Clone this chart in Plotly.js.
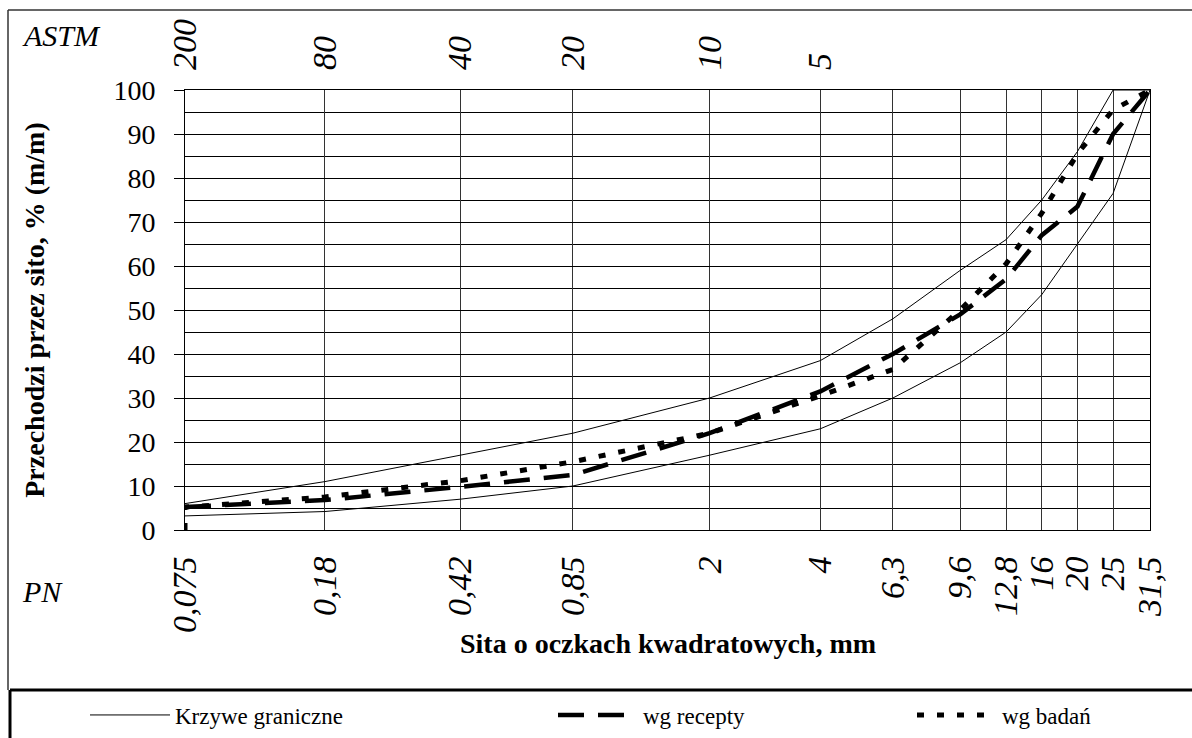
<!DOCTYPE html>
<html><head><meta charset="utf-8">
<script src="https://cdn.plot.ly/plotly-3.0.1.min.js"></script>
<style>html,body{margin:0;padding:0;background:#fff}#chart{width:1192px;height:738px}</style>
</head><body><div id="chart"></div>
<script>
// Sieve sizes (PN, mm) and their labels
const sieves = [0.075, 0.18, 0.42, 0.85, 2, 4, 6.3, 9.6, 12.8, 16, 20, 25, 31.5];
const pnLabels = ['0,075', '0,18', '0,42', '0,85', '2', '4', '6,3', '9,6', '12,8', '16', '20', '25', '31,5'];
// ASTM sieve numbers on the top axis
const astmSieves = [0.075, 0.18, 0.42, 0.85, 2, 4];
const astmLabels = ['200', '80', '40', '20', '10', '5'];
// Y ticks
const yTicks = [0, 10, 20, 30, 40, 50, 60, 70, 80, 90, 100];
// Grading limit curves (Krzywe graniczne)
const upperLimit = [6, 11, 17, 22, 30, 38.5, 48, 59, 66, 75, 86, 100, 100];
const lowerLimit = [3.2, 4.2, 7, 10, 17, 23, 30, 38, 45, 53.5, 65, 76.5, 100];
// wg recepty
const recipe = [5.2, 6.8, 9.8, 12.5, 22, 31.5, 40, 49, 57, 67, 73.5, 90, 100];
// wg badań
const testSieves = [0.075, 0.075, 0.18, 0.42, 0.85, 2, 4, 6.3, 9.6, 12.8, 16, 20, 25, 31.5];
const testValues = [0, 5.2, 7.5, 11.2, 15.5, 22, 30.5, 36.5, 50, 60.5, 72, 85.5, 95.5, 100];

const serif = 'Times New Roman, Liberation Serif';
const W = 1192, H = 738, ML = 185, MR = 42, MT = 90, MB = 208;
const PW = W - ML - MR, PH = H - MT - MB;
const px = v => (v - ML) / PW;
const py = v => (H - MB - v) / PH;

const traces = [
  {x: sieves.concat([null], sieves), y: upperLimit.concat([null], lowerLimit), type: 'scatter', mode: 'lines', connectgaps: false,
   name: 'Krzywe graniczne', legend: 'legend', line: {color: '#000', width: 1}, hoverinfo: 'skip'},
  {x: sieves, y: recipe, type: 'scatter', mode: 'lines', name: 'wg recepty', legend: 'legend2',
   line: {color: '#000', width: 4.5, dash: '26px,14px'}, hoverinfo: 'skip'},
  {x: testSieves, y: testValues, type: 'scatter', mode: 'lines', name: 'wg badań', legend: 'legend3',
   line: {color: '#000', width: 5, dash: '7px,13px'}, hoverinfo: 'skip'},
  {x: astmSieves, y: astmSieves.map(() => 0), xaxis: 'x2', type: 'scatter', mode: 'markers', marker: {size: 1, opacity: 0},
   showlegend: false, hoverinfo: 'skip'}
];

const legendBase = {orientation: 'h', xanchor: 'left', yanchor: 'middle', y: py(715),
  font: {family: serif, size: 23, color: '#000'}, bgcolor: 'rgba(0,0,0,0)', itemwidth: 80};

const layout = {
  width: W, height: H, margin: {l: ML, r: MR, t: MT, b: MB, autoexpand: false},
  paper_bgcolor: '#fff', plot_bgcolor: '#fff', font: {family: serif, color: '#000'},
  xaxis: {type: 'log', range: [Math.log10(0.075), Math.log10(31.5)], tickmode: 'array', tickvals: sieves, ticktext: pnLabels, tickangle: -90,
    tickfont: {family: serif, size: 34, style: 'italic', color: '#000'}, ticks: '', ticklabelstandoff: 12,
    showgrid: true, gridcolor: '#333', gridwidth: 1, showline: true, linecolor: '#000', linewidth: 1, mirror: true, zeroline: false, automargin: false},
  xaxis2: {type: 'log', range: [Math.log10(0.075), Math.log10(31.5)], overlaying: 'x', side: 'top', tickmode: 'array', tickvals: astmSieves,
    ticktext: astmLabels, tickangle: -90, tickfont: {family: serif, size: 34, style: 'italic', color: '#000'}, ticks: '', ticklabelstandoff: 19,
    showgrid: false, showline: false, zeroline: false, automargin: false},
  yaxis: {range: [0, 100], tickmode: 'array', tickvals: yTicks, ticks: 'outside', ticklen: 10, tickcolor: '#000', ticklabelstandoff: 13,
    tickfont: {family: serif, size: 28, color: '#000'}, showgrid: true, gridcolor: '#000', gridwidth: 1,
    minor: {dtick: 5, tick0: 0, showgrid: true, gridcolor: '#000', gridwidth: 1, ticks: ''},
    showline: true, linecolor: '#000', linewidth: 1, mirror: true, zeroline: false, automargin: false,
    title: {text: 'Przechodzi przez sito, % (m/m)', font: {family: serif, size: 28, weight: 'bold', color: '#000'}, standoff: 60}},
  legend: Object.assign({}, legendBase, {x: px(85)}),
  legend2: Object.assign({}, legendBase, {x: px(553)}),
  legend3: Object.assign({}, legendBase, {x: px(912)}),
  annotations: [
    {xref: 'paper', yref: 'paper', x: px(20), y: py(36), xanchor: 'left', yanchor: 'middle', showarrow: false,
     text: 'ASTM', font: {family: serif, size: 30, style: 'italic', color: '#000'}},
    {xref: 'paper', yref: 'paper', x: px(20), y: py(591), xanchor: 'left', yanchor: 'middle', showarrow: false,
     text: 'PN', font: {family: serif, size: 30, style: 'italic', color: '#000'}},
    {xref: 'paper', yref: 'paper', x: 0.5, y: py(643), xanchor: 'center', yanchor: 'middle', showarrow: false,
     text: 'Sita o oczkach kwadratowych, mm', font: {family: serif, size: 28, weight: 'bold', color: '#000'}}
  ],
  shapes: [
    {type: 'line', xref: 'paper', yref: 'paper', x0: px(8), x1: px(1200), y0: py(10), y1: py(10), line: {color: '#333', width: 1.5}},
    {type: 'line', xref: 'paper', yref: 'paper', x0: px(8), x1: px(8), y0: py(10), y1: py(690), line: {color: '#333', width: 1.5}},
    {type: 'line', xref: 'paper', yref: 'paper', x0: px(10), x1: px(1200), y0: py(690), y1: py(690), line: {color: '#000', width: 3}},
    {type: 'line', xref: 'paper', yref: 'paper', x0: px(10), x1: px(10), y0: py(690), y1: py(745), line: {color: '#000', width: 3}}
  ],
  showlegend: true
};

Plotly.newPlot('chart', traces, layout, {staticPlot: true, displayModeBar: false});
</script>
</body></html>
